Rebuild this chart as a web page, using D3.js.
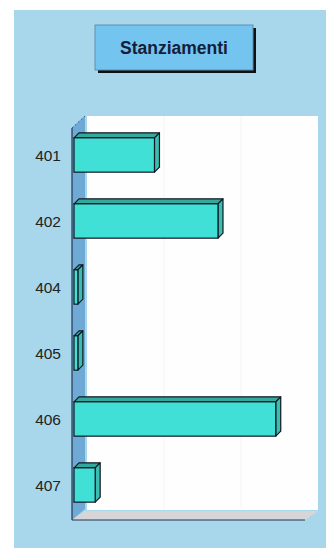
<!DOCTYPE html>
<meta charset="utf-8">
<script src="https://d3js.org/d3.v7.min.js"></script>
<style>
  body { margin: 0; background: #fff; }
</style>
<div id="chart"></div>
<script>

var categories = ["401", "402", "404", "405", "406", "407"];
var stanziamenti = [1045, 1870, 50, 50, 2620, 275];
var gridTicks = [1000, 2000];
var title = "Stanziamenti";

var W = 326, H = 548;
var svg = d3.select("#chart").append("svg")
    .attr("width", W)
    .attr("height", H);

// panel background
svg.append("rect")
    .attr("x", 14).attr("y", 10)
    .attr("width", W - 14).attr("height", H - 10)
    .style("fill", "#a8d7ec");

// title box
var tb = {x: 95, y: 25, w: 158, h: 45};
svg.append("rect")
    .attr("x", tb.x + 3).attr("y", tb.y + 3)
    .attr("width", tb.w).attr("height", tb.h)
    .style("fill", "#111");
svg.append("rect")
    .attr("x", tb.x).attr("y", tb.y)
    .attr("width", tb.w).attr("height", tb.h)
    .style("fill", "#74c4f0")
    .style("stroke", "#5f8fb0")
    .style("stroke-width", 1);
svg.append("text")
    .attr("x", tb.x + tb.w / 2)
    .attr("y", tb.y + tb.h / 2 + 6)
    .attr("text-anchor", "middle")
    .style("font-family", "Liberation Sans, Arial, sans-serif")
    .style("font-weight", "bold")
    .style("font-size", "17.5px")
    .style("fill", "#14203a")
    .text(title);

// plot geometry
var x0 = 74, xEnd = 305, yTop = 122, yBot = 520;
var dx = 13, dy = -11; // wall depth

var x = d3.scaleLinear().domain([0, 3000]).range([x0, xEnd]);
var y = d3.scaleBand().domain(categories).range([yTop, yBot - 2]).paddingInner(0.48).paddingOuter(0.24);

// back wall
svg.append("rect")
    .attr("x", x0 + dx).attr("y", yTop - 6)
    .attr("width", 318 - x0 - dx).attr("height", yBot + dy - yTop + 7)
    .style("fill", "#fefefe");

// gridlines on back wall
svg.selectAll(".grid")
    .data(gridTicks)
  .enter().append("line")
    .attr("class", "grid")
    .attr("x1", function(d) { return x(d) + dx; })
    .attr("x2", function(d) { return x(d) + dx; })
    .attr("y1", yTop - 6)
    .attr("y2", yBot + dy)
    .style("stroke", "#f6f2f2")
    .style("stroke-width", 1);

// left side wall
svg.append("path")
    .attr("d", "M" + (x0 - 2) + "," + (yTop + 6) + " L" + (x0 - 2 + dx) + "," + (yTop + 6 + dy - 1) +
               " L" + (x0 - 2 + dx) + "," + (yBot + dy) + " L" + (x0 - 2) + "," + yBot + "Z")
    .style("fill", "#6fa9d6");
svg.append("line")
    .attr("x1", x0 - 2).attr("y1", yTop + 6)
    .attr("x2", x0 - 2 + dx).attr("y2", yTop + 6 + dy - 1)
    .style("stroke", "#3a5a80")
    .style("stroke-dasharray", "2,2");

// floor
svg.append("path")
    .attr("d", "M" + (x0 - 2) + "," + yBot + " L" + (x0 - 2 + dx) + "," + (yBot + dy + 2) +
               " L318," + (yBot + dy + 2) + " L" + xEnd + "," + yBot + "Z")
    .style("fill", "#d6d6d8");

// axis lines
svg.append("line")
    .attr("x1", x0 - 2).attr("y1", yTop + 6)
    .attr("x2", x0 - 2).attr("y2", yBot)
    .style("stroke", "#2a3550").style("stroke-width", 1.2);
svg.append("line")
    .attr("x1", x0 - 2).attr("y1", yBot)
    .attr("x2", xEnd).attr("y2", yBot)
    .style("stroke", "#2a3550").style("stroke-width", 1.2);

// category labels
var yAxis = d3.axisLeft(y).tickSize(0).tickPadding(0);
var ya = svg.append("g")
    .attr("transform", "translate(61,0)")
    .call(yAxis);
ya.select(".domain").remove();
ya.selectAll("text")
    .attr("dy", "0.4em")
    .style("font-family", "Liberation Sans, Arial, sans-serif")
    .style("font-size", "15.5px")
    .style("fill", "#222");

// 3D bars
var bd = 5, bh = -5;
var bars = svg.selectAll(".bar")
    .data(categories.map(function(c, i) { return {cat: c, val: stanziamenti[i]}; }))
  .enter().append("g")
    .attr("class", "bar");

bars.append("path")  // top
    .attr("d", function(d) {
      var x1 = x(0), x2 = x(d.val), yy = y(d.cat);
      return "M" + x1 + "," + yy + " L" + (x1 + bd) + "," + (yy + bh) + " L" + (x2 + bd) + "," + (yy + bh) + " L" + x2 + "," + yy + "Z";
    })
    .style("fill", "#35a89e")
    .style("stroke", "#101820").style("stroke-width", 1.2).style("stroke-linejoin", "round");

bars.append("path")  // side
    .attr("d", function(d) {
      var x2 = x(d.val), yy = y(d.cat), h = y.bandwidth();
      return "M" + x2 + "," + yy + " L" + (x2 + bd) + "," + (yy + bh) + " L" + (x2 + bd) + "," + (yy + h + bh) + " L" + x2 + "," + (yy + h) + "Z";
    })
    .style("fill", "#3cbdb2")
    .style("stroke", "#101820").style("stroke-width", 1.2).style("stroke-linejoin", "round");

bars.append("rect")  // front
    .attr("x", x(0))
    .attr("y", function(d) { return y(d.cat); })
    .attr("width", function(d) { return x(d.val) - x(0); })
    .attr("height", y.bandwidth())
    .style("fill", "#40e0d6")
    .style("stroke", "#101820").style("stroke-width", 1.2);

</script>
